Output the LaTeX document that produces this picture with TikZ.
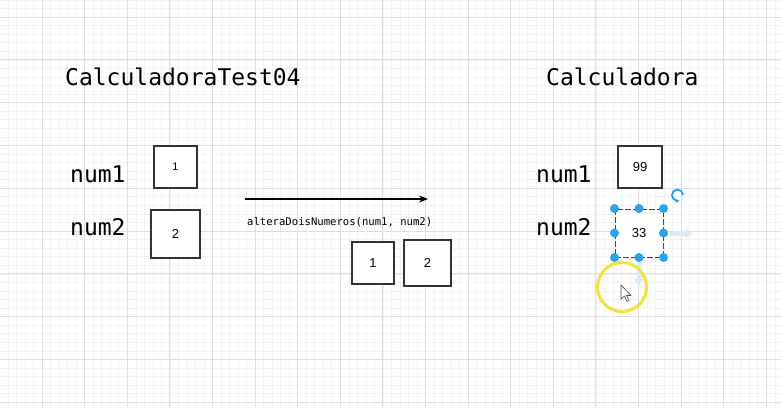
\documentclass[tikz,border=0pt]{standalone}
\usepackage{fontspec}
\setmainfont{Liberation Sans}
\newfontfamily\codefont{DejaVu Sans Mono}
\usetikzlibrary{arrows.meta}

\definecolor{gridmajor}{RGB}{222,222,222}
\definecolor{gridminor}{RGB}{242,242,242}
\definecolor{handleblue}{RGB}{41,163,239}
\definecolor{hoverblue}{RGB}{218,236,250}
\definecolor{ringyellow}{RGB}{238,228,58}

\begin{document}
\begin{tikzpicture}[x=1pt, y=-1pt,
    big/.style = {font=\codefont\fontsize{23}{23}\selectfont, inner sep=0pt, anchor=base west},
    small/.style = {font=\codefont\fontsize{10.6}{11}\selectfont, inner sep=0pt, anchor=base west},
    box/.style = {draw=black!80, line width=1.1pt, fill=white, inner sep=0pt, font=\fontsize{13}{13}\selectfont},
    handle/.style = {circle, fill=handleblue, inner sep=0pt, minimum size=9pt}]

    \useasboundingbox (0,0) rectangle (781,407);
    \fill[white] (0,0) rectangle (781,407);

    % grid
    \foreach \i in {0,...,92}
        \draw[gridminor, line width=0.6pt] ({\i*8.52-0.5},0) -- ({\i*8.52-0.5},407);
    \foreach \j in {0,...,52}
        \draw[gridminor, line width=0.6pt] (0,{\j*8.56-25.8}) -- (781,{\j*8.56-25.8});
    \foreach \i in {0,...,18}
        \draw[gridmajor, line width=1pt] ({\i*42.6-0.5},0) -- ({\i*42.6-0.5},407);
    \foreach \j in {0,...,9}
        \draw[gridmajor, line width=1pt] (0,{\j*42.8+17}) -- (781,{\j*42.8+17});

    % left side
    \node[big] (test) at (65,85) {CalculadoraTest04};
    \node[big] (lnum1) at (70,182) {num1};
    \node[big] (lnum2) at (70,235.5) {num2};
    \node[box, minimum width=43pt, minimum height=42pt, font=\fontsize{11}{11}\selectfont] (lbox1) at (175.5,167) {1};
    \node[box, minimum width=49pt, minimum height=48pt] (lbox2) at (175.5,234) {2};

    % call
    \coordinate (from) at (245,199);
    \coordinate (to) at (428,199);
    \draw[line width=1.2pt, -{Stealth[length=9pt, width=7pt]}] (from) -- (to);
    \node[small] (call) at (247,225) {alteraDoisNumeros(num1, num2)};
    \node[box, minimum width=42pt, minimum height=42pt] (mbox1) at (373,263) {1};
    \node[box, minimum width=47pt, minimum height=46pt] (mbox2) at (427.5,263) {2};

    % right side
    \node[big] (calc) at (546,85) {Calculadora};
    \node[big] (rnum1) at (536,182) {num1};
    \node[big] (rnum2) at (536,235.5) {num2};
    \node[box, minimum width=44pt, minimum height=42pt] (rbox1) at (640,167) {99};
    \node[box, draw=black!75, line width=1pt, dash pattern=on 6pt off 2pt, minimum width=48pt, minimum height=48pt] (rbox2) at (639,233) {33};

    % selection
    \foreach \a in {north west, north, north east, west, east, south west, south, south east}
        \node[handle] at (rbox2.\a) {};
    \draw[handleblue, line width=1.8pt, -{Latex[length=3.5pt, width=4.5pt]}] (683,195) arc[start angle=0, end angle=290, radius=5.5pt];
    \draw[hoverblue, line width=5pt, -{Triangle[length=6pt, width=10pt]}] (670,233) -- (692,233);
    \draw[hoverblue, line width=5pt, -{Triangle[length=6pt, width=10pt]}] (639,262) -- (639,285);

    % pointer
    \draw[ringyellow, line width=3pt] (622,287) circle[radius=24.5];
    \draw[black!70, fill=white, line width=0.6pt, line join=round]
        (621,285) -- (621,299) -- (624.5,296) -- (627,301.5) -- (629,300.5) -- (626.5,295.5) -- (631,295.5) -- cycle;

\end{tikzpicture}
\end{document}
